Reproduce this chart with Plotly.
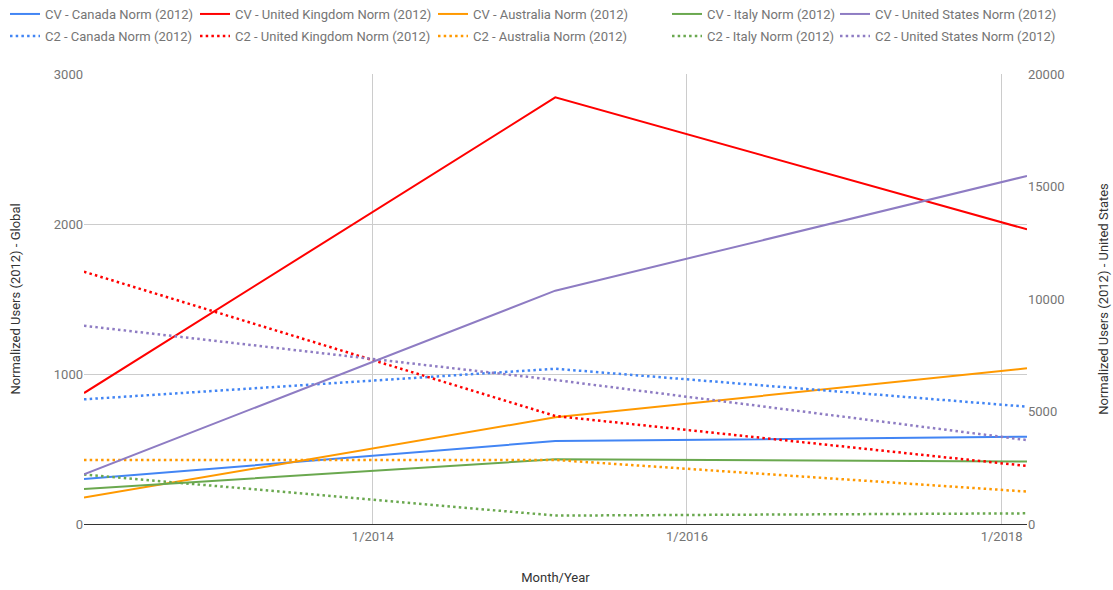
import plotly.graph_objects as go

dates = ["2012-03-01", "2015-03-01", "2018-03-01"]
countries = ["Canada", "United Kingdom", "Australia", "Italy", "United States"]
colors = ["#4285F4", "#FF0000", "#FF9900", "#6AA84F", "#8E7CC3"]

# CV series (left axis, except United States on right axis)
cv_canada = [300, 553, 582]
cv_uk = [873, 2844, 1964]
cv_australia = [176, 711, 1038]
cv_italy = [233, 431, 416]
cv_us = [2210, 10370, 15470]

# C2 series
c2_canada = [831, 1035, 782]
c2_uk = [1682, 720, 387]
c2_australia = [427, 427, 216]
c2_italy = [330, 56, 71]
c2_us = [8810, 6400, 3730]

cv = [cv_canada, cv_uk, cv_australia, cv_italy, cv_us]
c2 = [c2_canada, c2_uk, c2_australia, c2_italy, c2_us]

W, H = 1113, 590
legend_text_x = [45, 235, 473, 707, 875]   # pixel x where legend texts start
legend_rows_y = [14, 36]                  # pixel y of legend row centres

fig = go.Figure()
leg_layout = {}
idx = 0
for row, (prefix, series, dotted) in enumerate([("CV", cv, False), ("C2", c2, True)]):
    for col, (name, color, vals) in enumerate(zip(countries, colors, series)):
        idx += 1
        lname = "legend" if idx == 1 else f"legend{idx}"
        line = dict(color=color, width=2.5, dash="2.5px,3.2px") if dotted else dict(color=color, width=2)
        fig.add_trace(go.Scatter(
            x=dates, y=vals, mode="lines", name=f"{prefix} - {name} Norm (2012)",
            line=line, showlegend=True,
            yaxis="y2" if name == "United States" else "y", legend=lname))
        leg_layout[lname] = dict(
            orientation="h", xref="container", yref="container",
            x=(legend_text_x[col] - 40) / W, xanchor="left",
            y=1 - legend_rows_y[row] / H, yanchor="middle",
            font=dict(family="Roboto", size=13, color="#757575"),
            bgcolor="rgba(0,0,0,0)", borderwidth=0)

tick_font = dict(family="Roboto", size=13, color="#757575")
title_font = dict(family="Roboto", size=13, color="#333333")

fig.update_layout(
    width=W, height=H, showlegend=True,
    margin=dict(l=84, r=86, t=74, b=66, autoexpand=False),
    paper_bgcolor="white", plot_bgcolor="white",
    font=dict(family="Roboto", size=13, color="#757575"),
    xaxis=dict(
        type="date", range=[dates[0], dates[-1]],
        tick0="2014-01-01", dtick="M24", tickformat="%-m/%Y",
        showgrid=True, gridcolor="#cccccc", gridwidth=1,
        showline=True, linecolor="#333333", linewidth=1,
        ticks="", tickfont=tick_font, automargin=False,
        title=dict(text="Month/Year", font=title_font, standoff=30),
    ),
    yaxis=dict(
        range=[0, 3000], dtick=1000, showgrid=True, gridcolor="#cccccc",
        zeroline=False, ticks="", tickfont=tick_font, automargin=False,
        title=dict(text="Normalized Users (2012) - Global", font=title_font, standoff=30),
    ),
    yaxis2=dict(
        range=[0, 20000], dtick=5000, tickformat="d", overlaying="y", side="right",
        showgrid=False, zeroline=False, ticks="", tickfont=tick_font, automargin=False,
        title=dict(text="Normalized Users (2012) - United States", font=title_font, standoff=35),
    ),
    **leg_layout,
)

fig.write_html("out.html", config={"displayModeBar": False},
               post_script="document.body.style.margin='0px';")
